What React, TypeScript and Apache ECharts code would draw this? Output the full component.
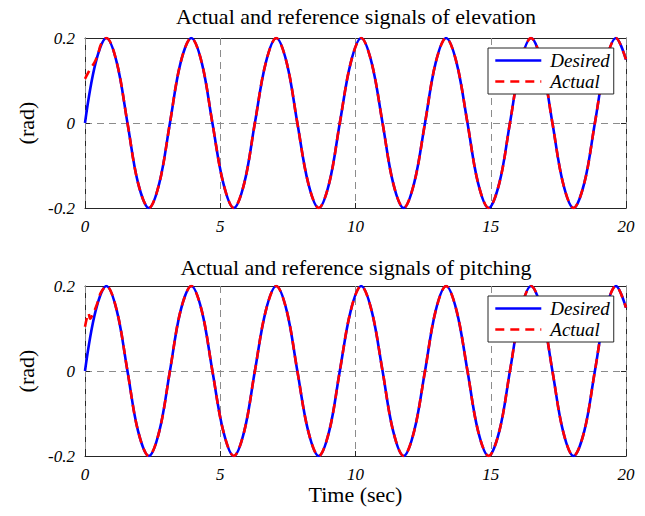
import React, { useEffect, useRef } from "react";
import * as echarts from "echarts";

// Time samples (s)
const timeSec = [
  0, 0.39, 0.79, 1.18, 1.57, 1.96, 2.36, 2.75, 3.14, 3.53, 3.93, 4.32, 4.71, 5.11, 5.5, 5.89,
  6.28, 6.68, 7.07, 7.46, 7.85, 8.25, 8.64, 9.03, 9.42, 9.82, 10.21, 10.6, 11.0, 11.39, 11.78,
  12.17, 12.57, 12.96, 13.35, 13.74, 14.14, 14.53, 14.92, 15.32, 15.71, 16.1, 16.49, 16.89,
  17.28, 17.67, 18.06, 18.46, 18.85, 19.24, 19.63, 20.0,
];
// Desired (reference) signal, rad
const desired = [
  0, 0.141, 0.2, 0.141, 0, -0.141, -0.2, -0.141, 0, 0.141, 0.2, 0.141, 0, -0.141, -0.2, -0.141,
  0, 0.141, 0.2, 0.141, 0, -0.141, -0.2, -0.141, 0, 0.141, 0.2, 0.141, 0, -0.141, -0.2,
  -0.141, 0, 0.141, 0.2, 0.141, 0, -0.141, -0.2, -0.141, 0, 0.141, 0.2, 0.141,
  0, -0.141, -0.2, -0.141, 0, 0.141, 0.2, 0.149,
];
// Initial transient of the actual signals (before they join the reference)
const elevStartTime = [0, 0.1, 0.2, 0.3, 0.4, 0.5, 0.59];
const elevStartValue = [0.104, 0.116, 0.128, 0.137, 0.149, 0.166, 0.185];
const pitchStartTime = [0, 0.07, 0.13, 0.19, 0.27, 0.39, 0.5, 0.59];
const pitchStartValue = [0.104, 0.125, 0.136, 0.123, 0.131, 0.148, 0.168, 0.185];
const joinIndex = 2; // actual follows the reference from timeSec[2] onward

const xTicks = [0, 5, 10, 15, 20];
const yTicks = [-0.2, 0, 0.2];
const titles = ["Actual and reference signals of elevation", "Actual and reference signals of pitching"];

const SERIF = "'Liberation Serif', 'DejaVu Serif', serif";

export default function App() {
  const ref = useRef<HTMLDivElement>(null);
  useEffect(() => {
    if (!ref.current) return;
    const chart = echarts.init(ref.current, undefined, { renderer: "svg" });
    const des = timeSec.map((t, i) => [t, desired[i]]);
    const tail = timeSec.slice(joinIndex).map((t, i) => [t, desired[i + joinIndex]]);
    const actElev = elevStartTime.map((t, i) => [t, elevStartValue[i]]).concat(tail);
    const actPitch = pitchStartTime.map((t, i) => [t, pitchStartValue[i]]).concat(tail);

    const gridTops = [38, 286];
    const axisColor = "#262626";
    const gridLine = { show: true, lineStyle: { color: "#8c8c8c", type: [7, 5], width: 1 } };
    const xAxes: any[] = [];
    const yAxes: any[] = [];
    gridTops.forEach((_, g) => {
      xAxes.push({
        type: "value", gridIndex: g, min: xTicks[0], max: xTicks[xTicks.length - 1], interval: 5,
        position: "bottom",
        axisLine: { show: true, onZero: false, lineStyle: { color: axisColor, width: 1 } },
        axisTick: { show: true, inside: true, length: 5, lineStyle: { color: axisColor } },
        axisLabel: { fontFamily: SERIF, fontStyle: "italic", fontSize: 17, color: "#000", margin: 10 },
        splitLine: gridLine,
        name: g === 1 ? "Time (sec)" : "",
        nameLocation: "middle", nameGap: 25,
        nameTextStyle: { fontFamily: SERIF, fontSize: 22, color: "#000" },
        z: 3,
      });
      xAxes.push({
        type: "value", gridIndex: g, min: 0, max: 20, interval: 5, position: "top",
        axisLine: { show: true, onZero: false, lineStyle: { color: axisColor, width: 1 } },
        axisTick: { show: true, inside: true, length: 5, lineStyle: { color: axisColor } },
        axisLabel: { show: false }, splitLine: { show: false },
      });
      yAxes.push({
        type: "value", gridIndex: g, min: yTicks[0], max: yTicks[yTicks.length - 1], interval: 0.2,
        position: "left",
        axisLine: { show: true, onZero: false, lineStyle: { color: axisColor, width: 1 } },
        axisTick: { show: true, inside: true, length: 5, lineStyle: { color: axisColor } },
        axisLabel: {
          fontFamily: SERIF, fontStyle: "italic", fontSize: 17, color: "#000", margin: 10,
          formatter: (v: number) => (Math.abs(v) < 1e-9 ? "0" : String(Math.round(v * 10) / 10)),
        },
        splitLine: gridLine,
        name: "(rad)", nameLocation: "middle", nameGap: 47, nameRotate: 90,
        nameTextStyle: { fontFamily: SERIF, fontSize: 22, color: "#000" },
      });
      yAxes.push({
        type: "value", gridIndex: g, min: -0.2, max: 0.2, interval: 0.2, position: "right",
        axisLine: { show: true, onZero: false, lineStyle: { color: axisColor, width: 1 } },
        axisTick: { show: true, inside: true, length: 5, lineStyle: { color: axisColor } },
        axisLabel: { show: false }, splitLine: { show: false },
      });
    });

    const mkSeries = (g: number, act: number[][]) => [
      {
        type: "line", name: "Desired", xAxisIndex: g * 2, yAxisIndex: g * 2, data: des,
        smooth: 0.35, symbol: "none", lineStyle: { color: "#0000ff", width: 2.6 }, itemStyle: { color: "#0000ff" },
      },
      {
        type: "line", name: "Actual", xAxisIndex: g * 2, yAxisIndex: g * 2, data: act,
        smooth: 0.35, symbol: "none", lineStyle: { color: "#ff0000", width: 2.6, type: [9, 6] }, itemStyle: { color: "#ff0000" },
      },
    ];

    const mkLegend = (top: number) => ({
      left: 488, top, orient: "vertical", itemWidth: 46, itemHeight: 12, itemGap: 2,
      padding: [3, 4, 3, 6], backgroundColor: "#fff", borderColor: axisColor, borderWidth: 1,
      borderRadius: 0, selectedMode: false,
      itemStyle: { opacity: 0 },
      lineStyle: { width: 2.6 },
      textStyle: { fontFamily: SERIF, fontStyle: "italic", fontSize: 19, color: "#000", padding: [0, 0, 0, 4] },
      data: ["Desired", "Actual"],
    });

    chart.setOption({
      animation: false,
      backgroundColor: "#fff",
      title: titles.map((t, i) => ({
        text: t, left: 356, textAlign: "center", top: i === 0 ? 5 : 256, padding: 0,
        textStyle: { fontFamily: SERIF, fontWeight: "normal", fontSize: 22, color: "#000" },
      })),
      grid: gridTops.map((top) => ({ left: 85, right: 19, top, height: 170, containLabel: false })),
      xAxis: xAxes,
      yAxis: yAxes,
      legend: [mkLegend(48), mkLegend(296)],
      series: [...mkSeries(0, actElev), ...mkSeries(1, actPitch)],
    });
    return () => chart.dispose();
  }, []);
  return <div ref={ref} style={{ position: "fixed", left: 0, top: 0, width: 645, height: 516 }} />;
}
